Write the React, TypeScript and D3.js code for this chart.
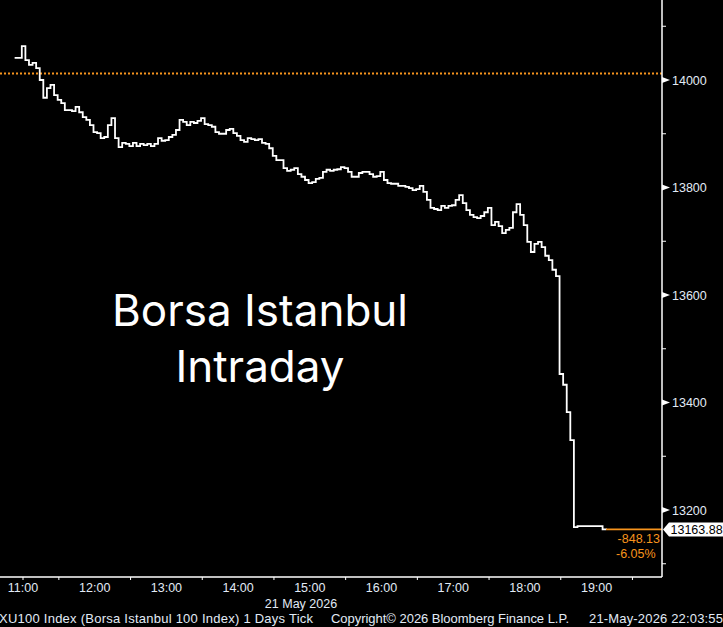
import * as d3 from "d3";

const START_MINUTE = 10 * 60 + 53;
const STEP_MINUTES = 3;
const prices = [
  14041, 14041, 14063, 14037, 14028, 14032, 14022, 14000, 13967, 13985,
  13991, 13972, 13963, 13957, 13944, 13944, 13942, 13950, 13940, 13931,
  13926, 13916, 13903, 13901, 13892, 13894, 13916, 13929, 13892, 13875,
  13883, 13881, 13877, 13883, 13877, 13881, 13879, 13881, 13877, 13881,
  13892, 13887, 13888, 13894, 13898, 13907, 13926, 13922, 13916, 13922,
  13920, 13924, 13929, 13918, 13916, 13913, 13903, 13900, 13900, 13907,
  13909, 13901, 13896, 13888, 13885, 13892, 13890, 13888, 13890, 13883,
  13881, 13873, 13859, 13851, 13851, 13836, 13831, 13833, 13836, 13825,
  13820, 13814, 13808, 13810, 13816, 13818, 13829, 13833, 13831, 13833,
  13834, 13838, 13836, 13829, 13820, 13820, 13827, 13829, 13829, 13825,
  13820, 13821, 13829, 13814, 13808, 13807, 13807, 13803, 13803, 13801,
  13799, 13795, 13797, 13803, 13792, 13777, 13762, 13760, 13758, 13766,
  13762, 13766, 13767, 13777, 13786, 13771, 13758, 13749, 13745, 13743,
  13747, 13754, 13762, 13730, 13736, 13728, 13715, 13721, 13725, 13754,
  13769, 13749, 13730, 13699, 13680, 13695, 13699, 13689, 13673, 13665,
  13647, 13635, 13453, 13433, 13382, 13330, 13168, 13170, 13170, 13170,
  13170, 13170, 13170, 13170, 13164, 13163.88,
];

const prevClose = 14012.01;
const lastPrice = 13163.88;
const netChange = "-848.13";
const pctChange = "-6.05%";

const hourLabels = ["11:00", "12:00", "13:00", "14:00", "15:00", "16:00", "17:00", "18:00", "19:00"];
const hourTicks = [11 * 60, 11 * 60 + 30, 12 * 60 + 30, 13 * 60 + 30, 14 * 60 + 30, 15 * 60 + 30, 16 * 60 + 30, 17 * 60 + 30, 18 * 60 + 30, 19 * 60 + 30];
const majorPrices = [14000, 13800, 13600, 13400, 13200];
const minorPrices = [14100, 13900, 13700, 13500, 13300, 13100];

const W = 723;
const H = 627;
const axisX = 662;
const axisY = 577;

const white = "#ffffff";
const labelColor = "#e2ebf6";
const orange = "#f7941d";
const font = "'Liberation Sans', Arial, sans-serif";

export default function App() {
  const x = d3.scaleLinear().domain([11 * 60, 19 * 60]).range([23, 596.6]);
  const y = d3.scaleLinear().domain([13200, 14000]).range([510, 80]);

  const points = prices.map((p, i) => ({ t: START_MINUTE + i * STEP_MINUTES, p }));
  const line = d3
    .line<{ t: number; p: number }>()
    .x((d) => x(d.t))
    .y((d) => y(d.p))
    .curve(d3.curveStepAfter);

  const last = points[points.length - 1];
  const lastY = y(lastPrice);

  return (
    <svg
      width={W}
      height={H}
      style={{ position: "absolute", left: 0, top: 0, background: "#000" }}
      fontFamily={font}
    >
      <rect x={0} y={0} width={W} height={H} fill="#000" />

      {/* previous close */}
      <line
        x1={0}
        x2={axisX}
        y1={y(prevClose)}
        y2={y(prevClose)}
        stroke={orange}
        strokeWidth={2}
        strokeDasharray="2,2"
      />

      <path d={line(points) ?? ""} fill="none" stroke={white} strokeWidth={1.8} />
      <line x1={x(last.t)} x2={axisX} y1={lastY} y2={lastY} stroke={orange} strokeWidth={1.6} />

      <text x={260} y={326} fill={white} fontFamily="Inter, sans-serif" fontSize={44} textAnchor="middle">
        Borsa Istanbul
      </text>
      <text x={260} y={382} fill={white} fontFamily="Inter, sans-serif" fontSize={44} textAnchor="middle">
        Intraday
      </text>

      {/* axes */}
      <line x1={axisX} x2={axisX} y1={0} y2={axisY} stroke={white} strokeWidth={1.5} />
      <line x1={0} x2={axisX} y1={axisY} y2={axisY} stroke={white} strokeWidth={1.5} />

      {minorPrices.map((p) => (
        <line key={p} x1={axisX} x2={axisX + 4} y1={y(p)} y2={y(p)} stroke={white} strokeWidth={1} />
      ))}
      {majorPrices.map((p) => (
        <g key={p}>
          <path d={`M${axisX},${y(p) - 3}L${axisX + 8},${y(p)}L${axisX},${y(p) + 3}Z`} fill={white} />
          <text x={672} y={y(p) + 4.5} fill={labelColor} fontSize={12.5}>
            {p}
          </text>
        </g>
      ))}

      {hourTicks.map((t) => (
        <line key={t} x1={x(t)} x2={x(t)} y1={axisY} y2={axisY + 3} stroke={white} strokeWidth={1} />
      ))}
      {hourLabels.map((l, i) => (
        <text key={l} x={x((11 + i) * 60)} y={592} fill={labelColor} fontSize={12.5} textAnchor="middle">
          {l}
        </text>
      ))}
      <text x={301} y={608} fill={labelColor} fontSize={12.5} textAnchor="middle">
        21 May 2026
      </text>

      {/* last price tag */}
      <path
        d={`M${axisX + 1},${lastY}L${axisX + 7},${lastY - 7}H${W}V${lastY + 7}H${axisX + 7}Z`}
        fill={white}
      />
      <text x={670.5} y={lastY + 4.5} fill="#000" fontSize={12.5}>
        {lastPrice.toFixed(2)}
      </text>
      <text x={660} y={543} fill={orange} fontSize={12.5} textAnchor="end">
        {netChange}
      </text>
      <text x={616} y={558} fill={orange} fontSize={12.5}>
        {pctChange}
      </text>

      {/* footer */}
      <text x={-1} y={623} fill={labelColor} fontSize={13} textLength={314} lengthAdjust="spacing">
        XU100 Index (Borsa Istanbul 100 Index) 1 Days Tick
      </text>
      <text x={331} y={623} fill={labelColor} fontSize={13} textLength={238} lengthAdjust="spacing">
        Copyright© 2026 Bloomberg Finance L.P.
      </text>
      <text x={589} y={623} fill={labelColor} fontSize={13} textLength={134} lengthAdjust="spacing">
        21-May-2026 22:03:55
      </text>
    </svg>
  );
}
